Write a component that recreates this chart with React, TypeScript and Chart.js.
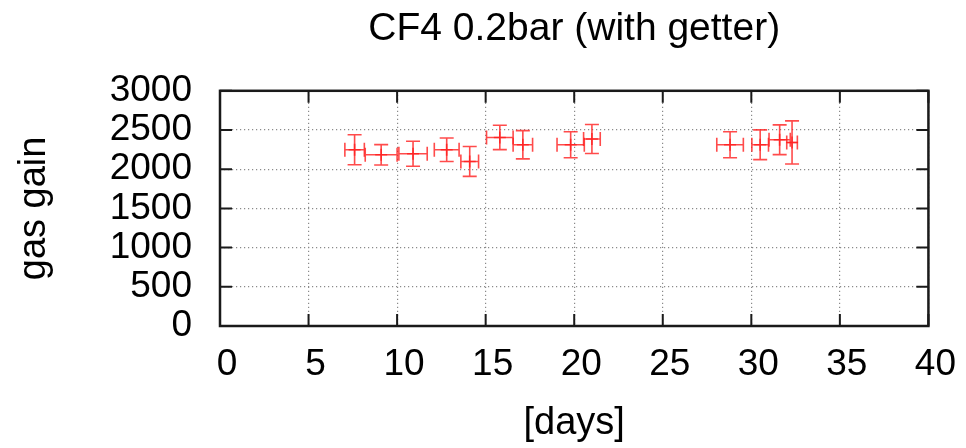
import React, { useEffect, useRef } from "react";
import { Chart, registerables } from "chart.js";

Chart.register(...registerables);

const chartTitle = "CF4 0.2bar (with getter)";
const xTitle = "[days]";
const yTitle = "gas gain";

const days = [7.6, 9.1, 10.9, 12.8, 14.1, 15.8, 17.1, 19.8, 21.0, 28.8, 30.5, 31.6, 32.3];
const gain = [2248, 2184, 2197, 2248, 2099, 2405, 2312, 2312, 2385, 2312, 2312, 2376, 2341];
const dayErr = [0.55, 0.9, 0.8, 0.7, 0.5, 0.75, 0.55, 0.77, 0.47, 0.75, 0.47, 0.6, 0.3];
const gainErr = [192, 130, 160, 150, 190, 155, 180, 165, 185, 165, 190, 190, 275];

const xMin = 0;
const xMax = 40;
const xStep = 5;
const yMin = 0;
const yMax = 3000;
const yStep = 500;

const FONT = "'Liberation Sans', Arial, Helvetica, sans-serif";
const RED = "rgba(255, 30, 30, 0.8)";

const errorBarPlugin = {
  id: "errorBars",
  afterDatasetsDraw(chart: any) {
    const { ctx, scales } = chart;
    const xs = scales.x;
    const ys = scales.y;
    const cap = 7;
    ctx.save();
    ctx.strokeStyle = RED;
    ctx.lineWidth = 1.6;
    for (let i = 0; i < days.length; i++) {
      const cx = xs.getPixelForValue(days[i]);
      const cy = ys.getPixelForValue(gain[i]);
      const x0 = xs.getPixelForValue(days[i] - dayErr[i]);
      const x1 = xs.getPixelForValue(days[i] + dayErr[i]);
      const y0 = ys.getPixelForValue(gain[i] - gainErr[i]);
      const y1 = ys.getPixelForValue(gain[i] + gainErr[i]);
      ctx.beginPath();
      ctx.moveTo(x0, cy);
      ctx.lineTo(x1, cy);
      ctx.moveTo(x0, cy - cap);
      ctx.lineTo(x0, cy + cap);
      ctx.moveTo(x1, cy - cap);
      ctx.lineTo(x1, cy + cap);
      ctx.moveTo(cx, y0);
      ctx.lineTo(cx, y1);
      ctx.moveTo(cx - cap, y0);
      ctx.lineTo(cx + cap, y0);
      ctx.moveTo(cx - cap, y1);
      ctx.lineTo(cx + cap, y1);
      ctx.stroke();
    }
    ctx.restore();
  },
};

const framePlugin = {
  id: "frame",
  afterDraw(chart: any) {
    const { ctx, chartArea, scales } = chart;
    const { left, right, top, bottom } = chartArea;
    const tl = 12;
    ctx.save();
    ctx.strokeStyle = "#1a1a1a";
    ctx.lineWidth = 2;
    ctx.beginPath();
    for (let v = xMin; v <= xMax; v += xStep) {
      const px = scales.x.getPixelForValue(v);
      ctx.moveTo(px, bottom);
      ctx.lineTo(px, bottom - tl);
      ctx.moveTo(px, top);
      ctx.lineTo(px, top + tl);
    }
    for (let v = yMin; v <= yMax; v += yStep) {
      const py = scales.y.getPixelForValue(v);
      ctx.moveTo(left, py);
      ctx.lineTo(left + tl, py);
      ctx.moveTo(right, py);
      ctx.lineTo(right - tl, py);
    }
    ctx.stroke();
    ctx.lineWidth = 2.5;
    ctx.strokeRect(left, top, right - left, bottom - top);
    ctx.restore();
  },
};

export default function App() {
  const canvasRef = useRef<HTMLCanvasElement | null>(null);

  useEffect(() => {
    document.body.style.margin = "0";
    document.body.style.overflow = "hidden";
    const canvas = canvasRef.current;
    if (!canvas) return;
    const chart = new Chart(canvas, {
      type: "scatter",
      data: {
        datasets: [
          {
            label: "gas gain",
            data: days.map((d, i) => ({ x: d, y: gain[i] })),
            pointStyle: "cross",
            pointRadius: 6,
            pointBorderWidth: 1.6,
            borderColor: RED,
            backgroundColor: RED,
          },
        ],
      },
      options: {
        animation: false,
        responsive: true,
        maintainAspectRatio: false,
        layout: { padding: { left: 0, right: 34, top: 0, bottom: 0 } },
        plugins: {
          legend: { display: false },
          tooltip: { enabled: false },
          title: {
            display: true,
            text: chartTitle,
            fullSize: false,
            color: "#000",
            font: { family: FONT, size: 39, weight: "normal" },
            padding: { top: 6, bottom: 38 },
          },
        },
        scales: {
          x: {
            type: "linear",
            min: xMin,
            max: xMax,
            afterFit(scale: any) {
              scale.height = 122;
            },
            ticks: {
              stepSize: xStep,
              autoSkip: false,
              maxRotation: 0,
              color: "#000",
              padding: 17,
              labelOffset: 7,
              font: { family: FONT, size: 37 },
              callback: (v: any) => String(v),
            },
            grid: { color: "#8a8a8a", lineWidth: 1.2, drawTicks: false },
            border: { display: false, dash: [1.2, 2.8] },
            title: {
              display: true,
              text: xTitle,
              color: "#000",
              font: { family: FONT, size: 38 },
              padding: { top: 0, bottom: 2 },
            },
          },
          y: {
            type: "linear",
            min: yMin,
            max: yMax,
            afterFit(scale: any) {
              scale.width = 220;
            },
            ticks: {
              stepSize: yStep,
              autoSkip: false,
              color: "#000",
              padding: 28,
              font: { family: FONT, size: 37 },
              callback: (v: any) => String(v),
            },
            grid: { color: "#8a8a8a", lineWidth: 1.2, drawTicks: false },
            border: { display: false, dash: [1.2, 2.8] },
            title: {
              display: true,
              text: yTitle,
              color: "#000",
              font: { family: FONT, size: 38 },
              padding: { top: 12, bottom: 0 },
            },
          },
        },
      },
      plugins: [errorBarPlugin, framePlugin],
    });
    return () => chart.destroy();
  }, []);

  return (
    <div style={{ position: "fixed", left: 0, top: 0, width: 966, height: 448, background: "#fff" }}>
      <canvas ref={canvasRef} />
    </div>
  );
}
